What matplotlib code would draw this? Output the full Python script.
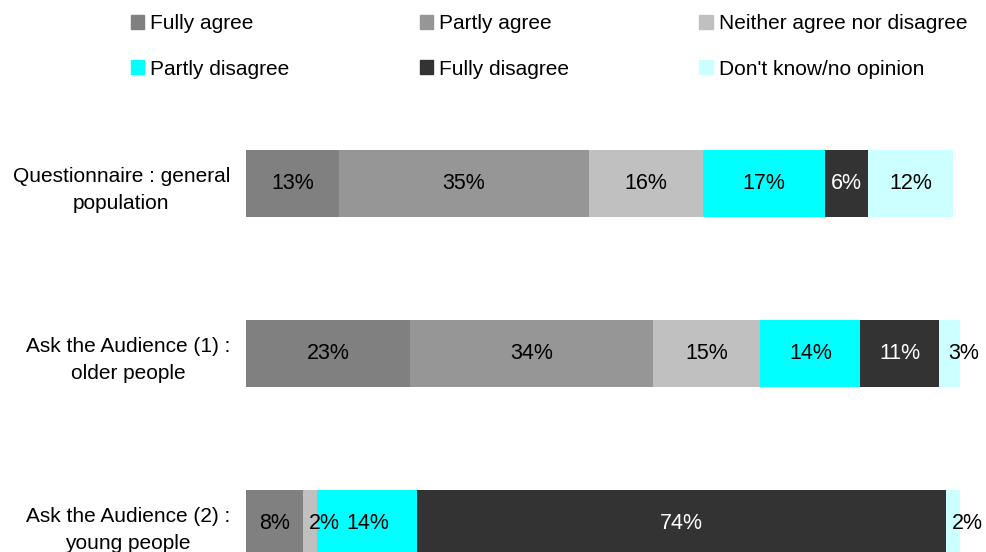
import matplotlib.pyplot as plt
from matplotlib.patches import Patch
import numpy as np

plt.rcParams['font.family'] = ['Liberation Sans', 'DejaVu Sans']

groups = ['Questionnaire : general\npopulation',
          'Ask the Audience (1) :\nolder people',
          'Ask the Audience (2) :\nyoung people']
answers = ['Fully agree', 'Partly agree', 'Neither agree nor disagree',
           'Partly disagree', 'Fully disagree', "Don't know/no opinion"]
fully_agree = [13, 23, 8]
partly_agree = [35, 34, 0]
neither = [16, 15, 2]
partly_disagree = [17, 14, 14]
fully_disagree = [6, 11, 74]
dont_know = [12, 3, 2]

colors = ['#808080', '#969696', '#c0c0c0', '#00ffff', '#333333', '#ccffff']
txtcol = ['black', 'black', 'black', 'black', 'white', 'black']

series = [fully_agree, partly_agree, neither, partly_disagree, fully_disagree, dont_know]

fig = plt.figure(figsize=(9.87, 5.52), dpi=100)
ax = fig.add_axes([246/987, 0, 714.5/987, 452/552])

y = np.arange(len(groups))
left = np.zeros(len(groups))
for vals, c, tc, name in zip(series, colors, txtcol, answers):
    vals = np.array(vals, dtype=float)
    ax.barh(y, vals, left=left, height=0.394, color=c, label=name)
    for i, v in enumerate(vals):
        if v <= 0:
            continue
        # small segments get their label nudged to the right
        xpos = left[i] + v/2 + (2 if v < 5 else 0)
        ax.text(xpos, y[i], '%d%%' % v, ha='center', va='center',
                fontsize=15.5, color=tc if v >= 5 else 'black')
    left += vals

ax.set_xlim(0, 100)
ax.set_ylim((552-183.5)/170, (100-183.5)/170)
ax.set_yticks(y)
ax.set_yticklabels(groups, fontsize=15, ha='right', multialignment='center',
                   linespacing=1.55)
ax.tick_params(axis='y', length=0, pad=11.5)
ax.set_xticks([])
for s in ax.spines.values():
    s.set_visible(False)

handles = [Patch(color=c) for c in colors]
order = [0, 3, 1, 4, 2, 5]
fig.legend([handles[k] for k in order], [answers[k] for k in order],
           ncol=3, loc='upper left', bbox_to_anchor=(119.5/987, 1 - 3/552),
           frameon=False, fontsize=15, handlelength=0.63, handleheight=0.63,
           handletextpad=0.3, columnspacing=6.25, labelspacing=1.25,
           borderaxespad=0.15)

fig.savefig('out.png', dpi=100)
